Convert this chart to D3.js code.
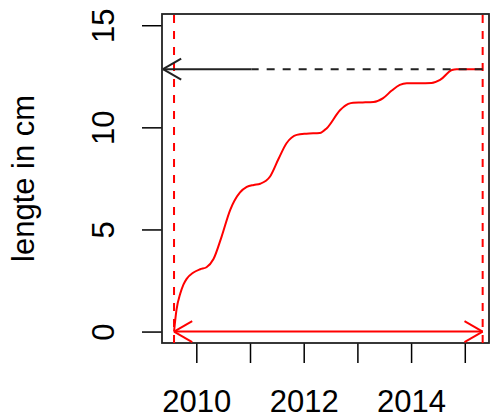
<html>
<head>
    <title>Lengte in cm</title>
    <script src="https://d3js.org/d3.v7.min.js"></script>
    <style>
        body { margin: 0; background-color: white; }
        .paint-board text { font-family: "Liberation Sans", Arial, sans-serif; fill: black; }
    </style>
</head>
<body>
    <div id="chart"></div>
    <script>
        // groeicurve
        var years   = [2009.585, 2009.63, 2009.70, 2009.76, 2009.82, 2009.94, 2010.07, 2010.19, 2010.32, 2010.47,
                       2010.63, 2010.81, 2010.94, 2011.07, 2011.19, 2011.37, 2011.53, 2011.68, 2011.87, 2012.05,
                       2012.30, 2012.43, 2012.68, 2012.83, 2012.92, 2013.10, 2013.30, 2013.48, 2013.64, 2013.79,
                       2013.92, 2014.15, 2014.38, 2014.54, 2014.76, 2014.85, 2015.10, 2015.333];
        var lengths = [0.00, 1.05, 1.85, 2.30, 2.58, 2.88, 3.05, 3.15, 3.55, 4.64,
                       5.95, 6.80, 7.08, 7.18, 7.24, 7.58, 8.45, 9.22, 9.63, 9.69,
                       9.72, 9.96, 10.85, 11.15, 11.21, 11.22, 11.24, 11.43, 11.80, 12.08,
                       12.16, 12.16, 12.17, 12.32, 12.81, 12.85, 12.85, 12.85];

        var x_ticks  = [2010, 2011, 2012, 2013, 2014, 2015];
        var x_labels = [2010, 2012, 2014];
        var y_ticks  = [0, 5, 10, 15];

        var start_year = 2009.585;
        var end_year   = 2015.333;
        var end_length = 12.85;
        var solid_to   = 2011.03;   // tot hier is de zwarte pijl getrokken

        var width = 490, height = 419;
        var box_left = 162, box_right = 489, box_top = 14, box_bottom = 343;

        var svg = d3.select("#chart").append("svg")
                    .attr("width", width)
                    .attr("height", height)
                    .attr("class", "paint-board");

        svg.append("rect").attr("width", width).attr("height", height).attr("fill", "white");

        var x = d3.scaleLinear().domain([2009.361, 2015.451]).range([box_left, box_right]);
        var y = d3.scaleLinear().domain([-0.56, 15.55]).range([box_bottom, box_top]);

        // assen (zoals R: naar buiten gerichte streepjes)
        var xAxis = svg.append("g")
                       .attr("transform", "translate(0," + box_bottom + ")")
                       .call(d3.axisBottom(x).tickValues(x_ticks).tickSize(20).tickFormat(function(d){
                           return x_labels.indexOf(d) >= 0 ? d : "";
                       }));
        xAxis.select(".domain").remove();
        xAxis.selectAll("line").attr("stroke", "black").attr("stroke-width", 1.5);
        xAxis.selectAll("text").attr("y", 69).attr("dy", 0).attr("font-size", 31);

        var yAxis = svg.append("g")
                       .attr("transform", "translate(" + box_left + ",0)")
                       .call(d3.axisLeft(y).tickValues(y_ticks).tickSize(20));
        yAxis.select(".domain").remove();
        yAxis.selectAll("line").attr("stroke", "black").attr("stroke-width", 1.5);
        yAxis.selectAll("text")
             .attr("x", 0).attr("dy", 0)
             .attr("text-anchor", "middle")
             .attr("font-size", 31)
             .attr("transform", "translate(-48,0) rotate(-90)");

        svg.append("text")
           .attr("transform", "translate(34," + y(7.5) + ") rotate(-90)")
           .attr("text-anchor", "middle")
           .attr("font-size", 31)
           .text("lengte in cm");

        // kader
        svg.append("rect")
           .attr("x", box_left).attr("y", box_top)
           .attr("width", box_right - box_left).attr("height", box_bottom - box_top)
           .attr("fill", "none")
           .attr("stroke", "#222")
           .attr("stroke-width", 1.8);

        var plot = svg.append("g");

        // verticale stippellijnen
        [start_year, end_year].forEach(function(v){
            plot.append("line")
                .attr("x1", x(v)).attr("x2", x(v))
                .attr("y1", box_bottom).attr("y2", box_top)
                .attr("stroke", "red")
                .attr("stroke-width", 2)
                .attr("stroke-dasharray", "8,8");
        });

        function arrow_head(x0, y0, x1, y1, color)
        {
            var a = Math.atan2(y1 - y0, x1 - x0);
            var len = 21, ang = Math.PI / 6;
            [a + ang, a - ang].forEach(function(b){
                plot.append("line")
                    .attr("x1", x1).attr("y1", y1)
                    .attr("x2", x1 - len * Math.cos(b))
                    .attr("y2", y1 - len * Math.sin(b))
                    .attr("stroke", color)
                    .attr("stroke-width", 2);
            });
        }

        // curve
        var line = d3.line()
                     .x(function(d){ return x(d[0]); })
                     .y(function(d){ return y(d[1]); })
                     .curve(d3.curveMonotoneX);
        plot.append("path")
            .datum(d3.zip(years, lengths))
            .attr("d", line)
            .attr("fill", "none")
            .attr("stroke", "red")
            .attr("stroke-width", 2);

        // zwarte pijl naar de y-as
        plot.append("line")
            .attr("x1", x(end_year)).attr("x2", x(solid_to))
            .attr("y1", y(end_length)).attr("y2", y(end_length))
            .attr("stroke", "#222")
            .attr("stroke-width", 2)
            .attr("stroke-dasharray", "8,8");
        plot.append("line")
            .attr("x1", x(solid_to)).attr("x2", x.range()[0] + 1)
            .attr("y1", y(end_length)).attr("y2", y(end_length))
            .attr("stroke", "#222")
            .attr("stroke-width", 2);
        arrow_head(x(solid_to), y(end_length), x.range()[0] + 1, y(end_length), "#222");

        // rode dubbele pijl
        plot.append("line")
            .attr("x1", x(start_year)).attr("x2", x(end_year))
            .attr("y1", y(0)).attr("y2", y(0))
            .attr("stroke", "red")
            .attr("stroke-width", 2);
        arrow_head(x(end_year), y(0), x(start_year), y(0), "red");
        arrow_head(x(start_year), y(0), x(end_year), y(0), "red");
    </script>
</body>
</html>
